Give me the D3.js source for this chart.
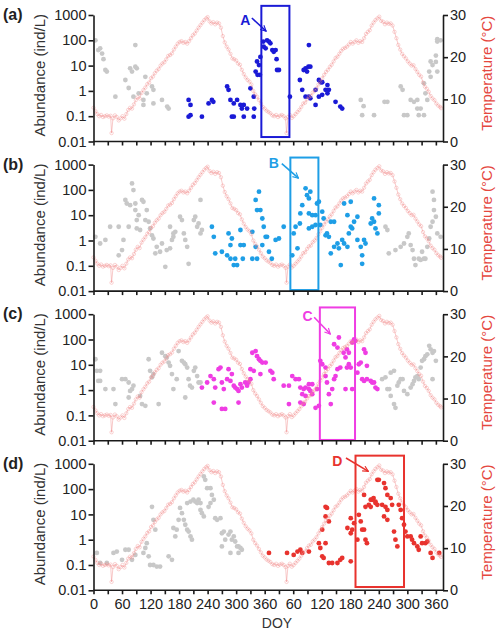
<!DOCTYPE html>
<html lang="en">
<meta charset="utf-8">
<script src="https://d3js.org/d3.v7.min.js"></script>
<style>
  body { margin: 0; background: #fff; }
  text { font-family: "Liberation Sans", Arial, sans-serif; }
</style>
<body>
<div id="chart"></div>
<script>
// temperature (°C) by day, same in every panel
var temperature = [[0,8.0],[4,7.2],[8,6.5],[12,6.0],[16,6.3],[20,5.8],[24,6.0],[28,6.2],[32,5.9],[36,6.1],[38,2.0],[41,5.5],[45,6.2],[49,5.8],[53,5.0],[57,5.5],[61,6.0],[65,5.4],[69,6.5],[73,7.5],[77,8.0],[81,7.8],[85,8.8],[89,9.8],[93,10.5],[97,10.2],[101,11.5],[105,12.2],[109,12.8],[113,13.6],[117,14.0],[121,15.0],[125,15.4],[129,16.2],[133,16.8],[137,17.2],[141,18.0],[145,18.5],[149,18.8],[153,19.5],[157,20.3],[161,20.5],[165,20.9],[169,21.8],[173,22.5],[177,23.2],[181,23.6],[185,23.8],[189,23.4],[193,23.6],[197,23.2],[201,23.8],[205,24.5],[209,25.2],[213,25.6],[217,26.3],[221,27.0],[225,27.6],[229,28.2],[233,28.8],[237,29.2],[240,29.5],[244,28.5],[248,28.0],[252,28.3],[256,27.8],[260,28.2],[264,28.0],[268,27.0],[272,25.0],[276,23.5],[280,22.5],[284,21.8],[288,20.8],[292,19.7],[296,19.5],[300,19.2],[304,18.5],[308,18.2],[312,17.0],[316,16.0],[320,15.2],[324,14.6],[328,14.2],[332,13.5],[336,12.0],[340,11.2],[344,10.6],[348,9.8],[352,9.0],[356,8.2],[360,7.8],[364,7.3],[368,7.0],[372,6.7],[376,6.2],[380,6.0],[384,6.3],[388,5.8],[392,6.1],[396,6.3],[400,6.0],[404,5.5],[406,2.0],[409,5.8],[413,6.3],[417,5.6],[421,6.0],[425,6.5],[429,7.0],[433,7.5],[437,8.2],[441,9.0],[445,9.2],[449,10.0],[453,10.6],[457,10.8],[461,11.6],[465,12.0],[469,12.6],[473,13.5],[477,14.2],[481,15.0],[485,15.8],[489,16.5],[493,17.0],[497,17.7],[501,18.2],[505,19.0],[509,19.8],[513,20.1],[517,20.8],[521,21.5],[525,22.0],[529,22.2],[533,22.5],[537,23.0],[541,23.6],[545,23.2],[549,23.6],[553,24.0],[557,23.4],[561,23.8],[565,23.6],[569,24.5],[573,25.5],[577,26.0],[581,26.4],[585,27.5],[589,28.2],[593,28.8],[597,29.2],[601,29.6],[605,28.6],[609,28.4],[613,27.8],[617,28.2],[621,27.9],[625,28.0],[629,27.5],[633,26.0],[637,24.5],[641,22.9],[645,21.8],[649,20.8],[653,20.2],[657,19.7],[661,19.0],[665,18.5],[669,18.0],[673,18.1],[677,17.2],[681,16.5],[685,15.8],[689,15.4],[693,14.0],[697,13.0],[701,12.5],[705,11.8],[709,10.8],[713,10.2],[717,9.8],[721,9.0],[725,8.5],[729,8.2],[731,7.9]];

// abundance (ind/L) by day
var grayA = [[4,100],[10,41],[14,48],[18,30],[21,18],[25,6.7],[28,5.8],[46,0.59],[67,2.7],[74,1.3],[77,7.8],[81,5.8],[88,9.1],[91,7.8],[84,0.59],[95,0.8],[105,0.44],[109,3.6],[112,0.8],[123,1.5],[126,1.1],[88,65],[105,0.28],[126,0.32],[144,0.44],[155,0.24],[158,0.2],
  [562,0.44],[565,0.11],[568,0.25],[590,0.11],[612,0.37],[618,0.37],[646,1.5],[650,1.1],[653,0.11],[660,0.11],[667,0.44],[674,0.37],[681,0.44],[681,0.2],[688,0.2],[684,0.11],[695,0.11],[695,2.0],[698,0.8],[706,5.8],[709,14.5],[713,10.5],[720,25],[723,89],[723,110],[730,100],[720,14],[702,0.44],[709,3.6],[723,5.8]];
var dotsA = [[200,0.44],[204,0.28],[200,0.096],[204,0.11],[228,0.096],[242,0.32],[249,0.44],[252,0.37],[281,1.5],[284,1.1],[288,0.44],[295,0.32],[302,0.44],[291,0.096],[295,0.096],[316,0.096],[323,0.2],[316,0.28],[309,0.28],[312,0.2],
  [330,1.26],[337,0.59],[338,0.2],[337,0.096],[341,5.8],[344,14.5],[348,10.5],[345,4.3],[350,4.3],[351,22],[357,89],[358,56],[362,48],[365,100],[369,89],[372,76],[376,41],[379,35],[383,41],[385,18],[386,6.7],[390,6.7],[413,0.59],[434,2.7],[439,1.1],[442,6.7],[446,7.8],[449,5.8],[452,9.1],[456,9.1],[453,65],[446,0.59],[453,0.59],[456,0.51],[467,1.1],[467,0.28],[474,2.7],[478,2.2],[481,2.2],[474,0.59],[481,0.7],[488,1.1],[492,0.8],[492,1.7],[495,1.1],[509,0.37],[519,0.24],[523,0.2]];

var grayB = [[4,1.4],[14,0.76],[25,1.05],[35,3.5],[53,3.5],[53,0.26],[60,0.42],[63,1.05],[67,40],[70,29],[74,3.5],[77,25],[81,180],[84,98],[88,29],[88,16],[91,6.4],[91,3.0],[95,10],[98,2.6],[102,40],[105,34],[109,6.4],[112,16],[116,5.5],[119,3.0],[123,1.6],[126,1.2],[130,0.31],[133,0.56],[140,0.36],[144,0.76],[151,0.091],[154,0.42],[161,0.49],[165,1.05],[168,1.4],[172,2.2],[182,8.7],[186,6.4],[190,1.9],[193,1.05],[197,0.56],[200,0.12],[211,6.4],[214,8.7],[218,3.5],[221,4.7],[225,40],[225,1.9],[228,2.6],[161,3.5],[168,1.9],
  [614,3.5],[618,2.6],[621,0.31],[635,0.42],[646,0.56],[653,0.76],[660,1.4],[663,1.9],[667,0.66],[671,0.42],[674,0.19],[677,0.107],[684,0.19],[688,0.17],[691,0.36],[695,0.19],[698,0.19],[702,0.56],[706,1.2],[709,3.5],[713,5.5],[716,16],[716,40],[713,85],[720,8.7],[723,1.9],[730,1.4]];
var dotsB = [[249,3.5],[253,1.4],[256,0.31],[270,0.36],[281,0.26],[284,1.9],[288,0.66],[291,1.2],[288,0.19],[298,0.19],[295,0.107],[302,0.107],[309,2.6],[309,0.66],[316,0.66],[314,0.19],
  [334,2.2],[334,0.19],[341,0.56],[344,16],[348,85],[341,40],[351,16],[355,7.4],[358,3.5],[362,1.4],[365,1.4],[369,0.36],[375,0.19],[344,0.19],[355,0.66],[383,1.05],[390,1.2],[400,3.5],[418,0.26],[421,1.9],[429,0.49],[425,3.5],[434,4.7],[435,11.8],[439,25],[446,115],[449,62],[453,46],[456,85],[453,11.8],[460,10],[453,3.0],[460,3.5],[467,10],[467,4.1],[470,29],[474,34],[477,4.1],[484,7.4],[481,13.8],[488,1.6],[491,1.9],[495,1.4],[499,0.31],[506,0.56],[513,0.76],[499,5.5],[506,5.5],[520,0.107],[516,0.49],[523,1.05],[527,0.76],[534,0.56],[537,1.9],[527,29],[541,34],[534,10],[541,3.5],[544,3.0],[548,5.5],[555,8.7],[555,1.05],[562,0.56],[565,0.26],[569,1.05],[572,0.76],[565,0.12],[583,4.7],[586,7.4],[590,5.5],[593,3.0],[597,1.9],[590,46],[600,25],[600,11.8]];

var grayC = [[4,16.6],[7,5.8],[14,5.8],[10,2.3],[14,2.3],[25,1.1],[42,1.1],[46,0.28],[60,2.7],[67,2.7],[74,2.0],[74,0.51],[77,0.93],[81,1.1],[84,1.5],[98,0.59],[102,0.28],[109,0.24],[116,16.6],[119,5.8],[123,3.2],[126,4.3],[137,0.28],[144,30],[151,22],[154,19.5],[158,12.3],[161,9.1],[165,4.3],[168,1.1],[175,2.7],[179,35],[186,14.4],[190,12.3],[193,10.5],[197,7.8],[200,2.7],[203,1.5],[207,1.26],[193,0.51],[211,5.8],[214,7.8],[218,3.6],[221,2.0],[225,2.0],
  [607,2.7],[614,3.2],[625,4.9],[632,5.8],[618,1.1],[622,1.1],[625,0.59],[632,0.28],[635,0.2],[639,1.5],[642,2.0],[646,2.7],[650,2.7],[653,0.93],[660,0.69],[667,1.26],[671,1.7],[674,2.3],[677,3.2],[681,3.6],[684,2.7],[688,7.8],[691,14.4],[695,16.6],[698,22],[702,26],[706,56],[709,41],[713,30],[716,35],[720,14.4],[713,2.7]];
var dotsC = [[228,1.26],[239,2.0],[246,3.6],[253,2.7],[256,1.26],[253,0.32],[263,6.7],[267,7.8],[270,2.0],[274,1.1],[270,0.18],[277,0.18],[281,2.7],[284,6.7],[291,4.3],[288,2.3],[295,1.5],[298,1.26],[302,1.1],[305,0.93],[305,0.32],[319,2.0],[323,1.5],[326,2.0],[330,2.7],[309,1.7],[312,1.26],
  [334,30],[341,35],[344,22],[348,16.6],[351,14.4],[355,12.3],[362,12.3],[330,6.7],[337,5.8],[351,4.3],[372,5.8],[376,4.9],[379,2.7],[400,1.5],[411,1.5],[418,3.6],[425,2.7],[432,2.7],[411,0.28],[435,1.26],[442,1.1],[446,1.26],[453,1.1],[456,0.93],[460,0.69],[439,0.69],[446,0.59],[435,0.32],[442,0.28],[467,0.2],[453,1.7],[460,1.7],[470,1.1],[474,0.24],[477,14.4],[481,10.5],[488,7.8],[488,3.6],[491,2.0],[499,0.28],[495,0.69],[502,1.1],[506,2.7],[509,3.6],[506,65],[513,48],[516,120],[513,6.7],[519,7.8],[526,30],[530,19.5],[533,41],[537,30],[533,7.8],[537,10.5],[541,7.8],[544,76],[548,102],[551,89],[530,1.1],[544,1.1],[555,4.9],[558,10.5],[562,12.3],[569,41],[572,30],[575,9.1],[565,2.7],[569,2.3],[575,2.7],[583,2.3],[586,2.0],[590,2.0],[593,1.26],[597,1.1]];

var grayD = [[7,0.3],[14,0.12],[28,0.12],[42,0.3],[49,0.34],[60,0.16],[67,0.4],[74,0.4],[81,0.16],[88,0.25],[105,0.3],[109,0.47],[112,0.73],[116,0.22],[119,0.1],[126,0.1],[123,20],[126,6.1],[130,2.5],[133,0.087],[140,0.087],[158,0.22],[165,0.16],[168,2.9],[172,1.35],[175,2.5],[179,6.1],[182,18],[186,11.2],[190,6.1],[193,3.9],[197,2.5],[200,2.1],[204,1.35],[207,1.0],[197,28],[204,32],[210,38],[214,32],[218,28],[221,38],[225,28],[225,15],[228,11.2],[232,8.3],[232,316],[235,233],[239,109],[246,109],[249,59],[242,20],[246,28],[253,38],[256,7.1],[260,6.1],[267,7.1],[270,1.8],[274,2.1],[270,0.54],[277,1.0],[284,1.6],[288,2.1],[291,1.0],[295,1.35],[298,0.85],[302,0.54],[305,0.54],[309,0.47],[312,0.4],[288,0.3],[305,0.3]];
var dotsD = [[369,0.3],[407,0.3],[421,0.25],[429,0.34],[435,0.4],[439,0.3],[453,0.34],[474,0.73],[477,0.47],[481,0.22],[484,0.19],[488,0.73],[481,2.5],[488,20],[491,18],[495,0.12],[502,0.12],[513,0.12],[523,0.19],[519,0.16],[541,0.14],[488,8.3],[495,5.3],[534,2.9],[541,1.8],[544,2.5],[548,4.5],[541,7.1],[558,9.6],[562,5.3],[565,2.5],[555,1.0],[569,59],[572,20],[579,24],[583,38],[586,38],[589,44],[593,32],[569,2.5],[572,1.0],[575,0.73],[583,20],[593,28],[597,24],[607,24],[614,20],[618,15],[611,8.3],[618,6.1],[597,233],[600,233],[611,173],[614,109],[618,59],[625,44],[628,24],[632,2.1],[635,1.0],[639,0.54],[642,24],[646,15],[649,7.1],[653,3.9],[656,2.1],[660,1.35],[667,1.35],[670,1.0],[674,0.73],[681,0.54],[684,0.4],[688,1.35],[691,0.73],[698,0.73],[702,0.85],[709,0.3],[713,0.19],[727,0.3]];

var panelNames = ["(a)", "(b)", "(c)", "(d)"];
var boxLetters = ["A", "B", "C", "D"];
var colors = ["#1a1ad6", "#1e9ee6", "#ef3de3", "#e8332e"];
var grays = [grayA, grayB, grayC, grayD];
var dots = [dotsA, dotsB, dotsC, dotsD];
// box: [day start, day end, abundance low, abundance high]
var boxes = [[353, 412, 0.015, 2300], [414, 473, 0.011, 1900], [476, 550, 0.0107, 1850], [551, 653, 0.0135, 2100]];
// letter [day, abundance], arrow from [day, abundance] to [day, abundance]
var letterPos = [[319, 630], [379, 1180], [450, 855], [513, 1350]];
var arrowFrom = [[333, 760], [396, 1100], [464, 760], [531, 1700]];
var arrowTo = [[363, 230], [431, 290], [498, 165], [578, 500]];

var yTicks = [0.01, 0.1, 1, 10, 100, 1000];
var tTicks = [0, 10, 20, 30];
var xTicks = d3.range(0, 721, 30);

var W = 500, H = 634;
var left = 93.5, right = 443;
var top0 = 15, ph = 126.5, step = 149.6;

var svg = d3.select("#chart").append("svg")
  .attr("width", W).attr("height", H);

var defs = svg.append("defs");
colors.forEach(function(c, i) {
  defs.append("marker")
    .attr("id", "arr" + i)
    .attr("viewBox", "0 0 10 10")
    .attr("refX", 9).attr("refY", 5)
    .attr("markerWidth", 7).attr("markerHeight", 7)
    .attr("markerUnits", "userSpaceOnUse")
    .attr("orient", "auto")
    .append("path")
      .attr("d", "M1,1 L9,5 L1,9")
      .attr("fill", "none")
      .attr("stroke", c)
      .attr("stroke-width", 1.6);
});

var x = d3.scaleLinear().domain([0, 735]).range([left, right]);

function drawPanel(i) {
  var top = top0 + i * step, bot = top + ph;
  var y = d3.scaleLog().domain([0.01, 1000]).range([bot, top]);
  var t = d3.scaleLinear().domain([0, 30]).range([bot, top]);
  var g = svg.append("g");

  g.selectAll(".gdot").data(grays[i]).enter().append("circle")
    .attr("cx", d => x(d[0])).attr("cy", d => y(d[1]))
    .attr("r", 2.4).attr("fill", "#c8c8c8");

  g.selectAll(".cdot").data(dots[i]).enter().append("circle")
    .attr("cx", d => x(d[0])).attr("cy", d => y(d[1]))
    .attr("r", 2.4).attr("fill", colors[i]);

  // temperature
  var line = d3.line().x(d => x(d[0])).y(d => t(d[1]));
  g.append("path").datum(temperature)
    .attr("d", line)
    .attr("fill", "none")
    .attr("stroke", "#f08a8a")
    .attr("stroke-opacity", 0.45)
    .attr("stroke-width", 1);
  g.selectAll(".tm").data(temperature).enter().append("circle")
    .attr("cx", d => x(d[0])).attr("cy", d => t(d[1]))
    .attr("r", 1.7)
    .attr("fill", "none")
    .attr("stroke", "#f08a8a")
    .attr("stroke-opacity", 0.45)
    .attr("stroke-width", 0.8);

  // box + arrow
  var b = boxes[i];
  g.append("rect")
    .attr("x", x(b[0])).attr("y", y(b[3]))
    .attr("width", x(b[1]) - x(b[0]))
    .attr("height", y(b[2]) - y(b[3]))
    .attr("fill", "none")
    .attr("stroke", colors[i])
    .attr("stroke-width", 2);
  g.append("line")
    .attr("x1", x(arrowFrom[i][0])).attr("y1", y(arrowFrom[i][1]))
    .attr("x2", x(arrowTo[i][0])).attr("y2", y(arrowTo[i][1]))
    .attr("stroke", colors[i])
    .attr("stroke-width", 1.6)
    .attr("marker-end", "url(#arr" + i + ")");
  g.append("text")
    .attr("x", x(letterPos[i][0])).attr("y", y(letterPos[i][1]))
    .attr("dy", "0.36em")
    .attr("text-anchor", "middle")
    .attr("font-size", 14).attr("font-weight", "bold")
    .attr("fill", colors[i])
    .text(boxLetters[i]);

  // axes
  var xa = g.append("g")
    .attr("transform", "translate(0," + bot + ")")
    .call(d3.axisBottom(x).tickValues(xTicks).tickSize(4).tickSizeOuter(0).tickPadding(4)
      .tickFormat(d => (i === 3 && d % 60 === 0) ? String(d > 360 ? d - 360 : d) : ""));
  xa.select(".domain").attr("d", "M" + left + ",0H" + right);

  g.append("g")
    .attr("transform", "translate(" + left + ",0)")
    .call(d3.axisLeft(y).tickValues(yTicks).tickSize(5).tickSizeOuter(0).tickPadding(2)
      .tickFormat(d => String(d)));

  g.append("g")
    .attr("transform", "translate(" + right + ",0)")
    .call(d3.axisRight(t).tickValues(tTicks).tickSize(5).tickSizeOuter(0).tickPadding(2));

  g.selectAll(".domain, .tick line")
    .attr("stroke", "#1a1a1a").attr("stroke-width", 1.6);
  g.selectAll(".tick text").attr("fill", "#222").attr("font-family", "Liberation Sans, Arial, sans-serif");
  xa.selectAll(".tick text").attr("font-size", 12);
  g.selectAll("g:not(:first-of-type) .tick text").attr("font-size", 14.5);

  // titles
  g.append("text")
    .attr("transform", "translate(45," + (top + ph / 2 - 3) + ") rotate(-90)")
    .attr("text-anchor", "middle")
    .attr("font-size", 15).attr("fill", "#333")
    .text("Abundance (ind/L)");
  g.append("text")
    .attr("transform", "translate(492," + (top + ph / 2 - 5) + ") rotate(-90)")
    .attr("text-anchor", "middle")
    .attr("font-size", 15).attr("fill", "#e5483f")
    .text("Temperature (°C)");
  g.append("text")
    .attr("x", 3).attr("y", top + 5)
    .attr("font-size", 16).attr("font-weight", "bold").attr("fill", "#222")
    .text(panelNames[i]);
}

for (var i = 0; i < 4; i++) drawPanel(i);

svg.append("text")
  .attr("x", 277).attr("y", 628)
  .attr("text-anchor", "middle")
  .attr("font-size", 14).attr("fill", "#333")
  .text("DOY");
</script>
</body>
</html>
